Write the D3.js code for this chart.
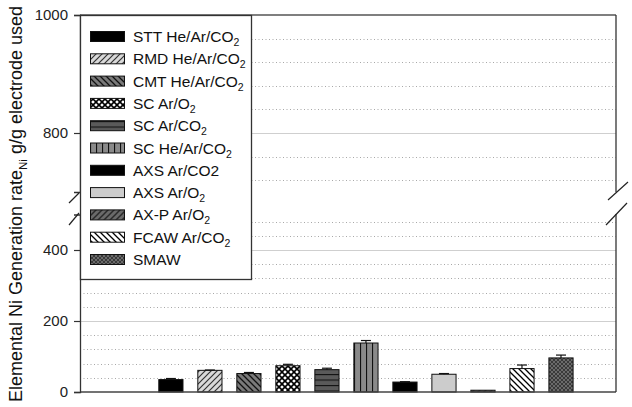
<!DOCTYPE html>
<html><head><meta charset="utf-8">
<script src="https://cdn.jsdelivr.net/npm/d3@7"></script>
<style>
html,body{margin:0;padding:0;background:#fff;}
svg{display:block;font-family:"Liberation Sans",Arial,sans-serif;}
</style></head>
<body><svg id="c" width="632" height="407"></svg>
<script>
// ---- data ----
const categories = ["STT He/Ar/CO_2","RMD He/Ar/CO_2","CMT He/Ar/CO_2","SC Ar/O_2","SC Ar/CO_2",
  "SC He/Ar/CO_2","AXS Ar/CO2","AXS Ar/O_2","AX-P Ar/O_2","FCAW Ar/CO_2","SMAW"];
const values = [35, 61, 52, 74, 63, 138, 28, 50, 5, 66, 96];
const errors = [3, 1, 3, 4, 4, 7, 1, 2, 0, 10, 8];
const lowTicks = [0, 200, 400];
const highTicks = [800, 1000];
const lowMinor = [40, 80, 120, 160, 240, 280, 320, 360, 440, 480];
const highMinor = [720, 760, 840, 880, 920, 960];
const yLabelMain = "Elemental Ni Generation rate";
const yLabelSub = "Ni";
const yLabelTail = "  g/g electrode used";

// ---- styles ----
const fills = ["#000","url(#pRMD)","url(#pCMT)","url(#pSCO2)","url(#pSCCO2)","url(#pSCHe)",
  "#000","#cccccc","url(#pAXP)","url(#pFCAW)","url(#pSMAW)"];

const svg = d3.select("#c");
const L = 80, R = 616, B = 392, T = 15;
const x = d3.scaleLinear().domain([-2.33, 11.41]).range([L, R]);
const yLow = d3.scaleLinear().domain([0, 500]).range([B, 214.5]);
const yHigh = d3.scaleLinear().domain([700, 1000]).range([192, T]);

// patterns
const defs = svg.append("defs");
function stripe(id, bg, fg, size, d, w) {
  const p = defs.append("pattern").attr("id", id).attr("patternUnits", "userSpaceOnUse")
    .attr("width", size).attr("height", size);
  p.append("rect").attr("width", size).attr("height", size).attr("fill", bg);
  p.append("path").attr("d", d).attr("stroke", fg).attr("stroke-width", w).attr("fill", "none");
}
stripe("pRMD", "#d9d9d9", "#333", 6, "M-1,7 L7,-1 M-1,1 L1,-1 M5,7 L7,5", 1.2);
stripe("pCMT", "#7a7a7a", "#111", 6, "M-1,-1 L7,7 M5,-1 L7,1 M-1,5 L1,7", 1.3);
stripe("pSCO2", "#fff", "#000", 6, "M0,0 L6,6 M6,0 L0,6", 1.6);
stripe("pSCCO2", "#5a5a5a", "#111", 5.5, "M0,0.5 L6,0.5", 1.2);
stripe("pSCHe", "#8a8a8a", "#111", 6, "M0.5,0 L0.5,6", 1.2);
stripe("pAXP", "#6a6a6a", "#2a2a2a", 6, "M-1,7 L7,-1 M-1,1 L1,-1 M5,7 L7,5", 1.5);
stripe("pFCAW", "#fff", "#000", 6, "M-1,-1 L7,7 M5,-1 L7,1 M-1,5 L1,7", 1.3);
stripe("pSMAW", "#3a3a3a", "#777", 4, "M0,0 L4,4 M4,0 L0,4", 0.8);

// gridlines
const gx = svg.append("g");
function grid(vals, sc, major) {
  gx.selectAll(null).data(vals).enter().append("line")
    .attr("x1", L).attr("x2", R)
    .attr("y1", d => Math.round(sc(d)) + 0.5).attr("y2", d => Math.round(sc(d)) + 0.5)
    .attr("stroke", major ? "#cfcfcf" : "#a8a8a8")
    .attr("stroke-width", major ? 1.2 : 1)
    .attr("stroke-dasharray", major ? null : "1,2.5");
}
grid(lowMinor, yLow, false);
grid(highMinor, yHigh, false);
grid([200, 400], yLow, true);
grid([800], yHigh, true);

// bars
const bw = (x(1) - x(0)) * 0.62;
const bars = svg.append("g");
bars.selectAll("rect").data(values).enter().append("rect")
  .attr("x", (d, i) => x(i) - bw / 2).attr("width", bw)
  .attr("y", d => yLow(d)).attr("height", d => B - yLow(d))
  .attr("fill", (d, i) => fills[i]).attr("stroke", "#111").attr("stroke-width", 1);
// error bars (upper only)
const eb = svg.append("g").attr("stroke", "#111").attr("stroke-width", 1.2);
values.forEach((v, i) => {
  if (errors[i] <= 0) return;
  eb.append("line").attr("x1", x(i)).attr("x2", x(i)).attr("y1", yLow(v)).attr("y2", yLow(v + errors[i]));
  eb.append("line").attr("x1", x(i) - 5).attr("x2", x(i) + 5)
    .attr("y1", yLow(v + errors[i])).attr("y2", yLow(v + errors[i]));
});

// frame
const fr = svg.append("g").attr("stroke", "#333").attr("stroke-width", 1.3);
fr.append("line").attr("x1", L).attr("x2", R).attr("y1", T).attr("y2", T).attr("stroke", "#555");
fr.append("line").attr("x1", L).attr("x2", R).attr("y1", B).attr("y2", B).attr("stroke", "#444");
fr.append("line").attr("x1", R).attr("x2", R).attr("y1", T).attr("y2", 192);
fr.append("line").attr("x1", R).attr("x2", R).attr("y1", 214).attr("y2", B);

// axes
const axLow = svg.append("g").attr("transform", `translate(${L},0)`)
  .call(d3.axisLeft(yLow).tickValues(lowTicks).tickSize(6).tickPadding(6).tickFormat(d3.format("d")));
const axHigh = svg.append("g").attr("transform", `translate(${L},0)`)
  .call(d3.axisLeft(yHigh).tickValues(highTicks).tickSize(6).tickPadding(6).tickFormat(d3.format("d")));
[axLow, axHigh].forEach(a => {
  a.select(".domain").attr("stroke", "#333").attr("stroke-width", 1.3);
  a.selectAll(".tick line").attr("stroke", "#333").attr("stroke-width", 1.2);
  a.selectAll(".tick text").attr("font-size", 15).attr("fill", "#222")
    .attr("font-family", "'Liberation Sans',Arial,sans-serif");
});

// break marks
const br = svg.append("g").attr("stroke", "#222").attr("stroke-width", 1.2);
[[69, 203, 79, 193], [69, 225, 79, 213], [608, 200, 628, 182], [606, 225, 627, 203]]
  .forEach(s => br.append("line").attr("x1", s[0]).attr("y1", s[1]).attr("x2", s[2]).attr("y2", s[3]));

// legend
const lg = svg.append("g");
lg.append("rect").attr("x", 80.5).attr("y", 15.5).attr("width", 171).attr("height", 264)
  .attr("fill", "#fff").attr("stroke", "#333").attr("stroke-width", 1.3);
categories.forEach((c, i) => {
  const cy = 36.5 + i * 22.3;
  lg.append("rect").attr("x", 90.5).attr("y", cy - 5).attr("width", 34).attr("height", 10)
    .attr("fill", fills[i]).attr("stroke", "#111").attr("stroke-width", 1);
  const t = lg.append("text").attr("x", 133).attr("y", cy + 5.5).attr("font-size", 15.5).attr("fill", "#111");
  const parts = c.split("_");
  t.append("tspan").text(parts[0]);
  if (parts[1]) t.append("tspan").attr("font-size", 10.5).attr("dy", 4).text(parts[1]);
});

// y label
const yl = svg.append("text").attr("transform", "translate(22,204) rotate(-90)")
  .attr("text-anchor", "middle").attr("font-size", 18).attr("fill", "#111");
yl.append("tspan").text(yLabelMain);
yl.append("tspan").attr("font-size", 11.5).attr("dy", 5).text(yLabelSub);
yl.append("tspan").attr("dy", -5).text(yLabelTail);
</script></body></html>
